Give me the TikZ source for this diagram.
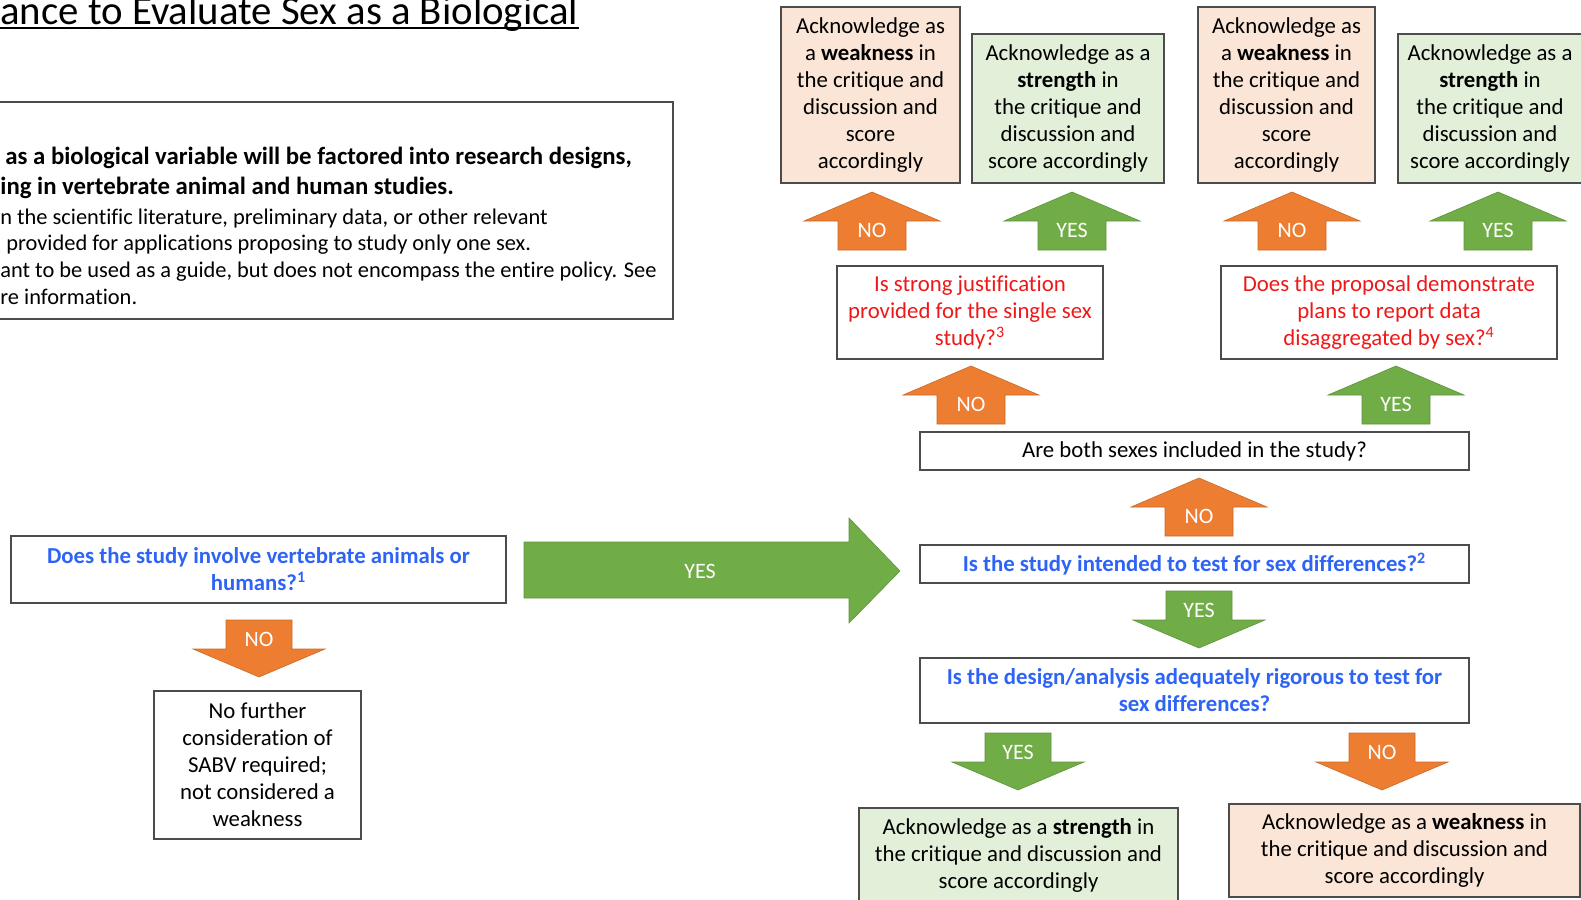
\documentclass[tikz,border=0pt]{standalone}
\usepackage{fontspec}
\setmainfont{Carlito}[Ligatures=NoCommon]
\definecolor{arrorange}{RGB}{237,125,49}
\definecolor{arrgreen}{RGB}{112,173,71}
\definecolor{qblue}{RGB}{46,100,246}
\definecolor{qred}{RGB}{238,24,24}
\definecolor{weakfill}{RGB}{251,229,214}
\definecolor{strfill}{RGB}{226,240,217}
\tikzset{
  box/.style={draw=black!70, line width=0.6pt, align=center, inner sep=0pt,
    font=\fontsize{11.4}{13.5}\selectfont},
  weakbox/.style={box, fill=weakfill},
  strbox/.style={box, fill=strfill},
  blueq/.style={box, text=qblue, font=\fontsize{11.4}{13.5}\selectfont\bfseries},
  redq/.style={box, text=qred},
  arrlabel/.style={text=white, inner sep=0pt, font=\fontsize{11}{13}\selectfont},
  introtxt/.style={anchor=base west, inner sep=0pt, font=\fontsize{11.2}{13.5}\selectfont},
  introbold/.style={introtxt, font=\fontsize{12.4}{14}\selectfont\bfseries},
}
% block arrows: name, colour, centre x, tip/top y, label
\newcommand{\blockup}[5]{%
  \fill[#2, draw=#2!85!black, line width=0.3pt] (#3,#4) -- ({#3+68},{#4+29}) -- ({#3+34},{#4+29})
    -- ({#3+34},{#4+58}) -- ({#3-34},{#4+58}) -- ({#3-34},{#4+29}) -- ({#3-68},{#4+29}) -- cycle;
  \node[arrlabel] (#1) at ({#3},{#4+38}) {#5};}
\newcommand{\blockdown}[5]{%
  \fill[#2, draw=#2!85!black, line width=0.3pt] ({#3-33},#4) -- ({#3+33},#4) -- ({#3+33},{#4+29})
    -- ({#3+66},{#4+29}) -- (#3,{#4+57}) -- ({#3-66},{#4+29}) -- ({#3-33},{#4+29}) -- cycle;
  \node[arrlabel] (#1) at ({#3},{#4+19}) {#5};}
\begin{document}
\begin{tikzpicture}[x=0.5pt,y=-0.5pt]
  \useasboundingbox (0,0) rectangle (1581,900);
  \clip (0,0) rectangle (1581,900);
  % title (cut off on the left)
  \node[anchor=base west, inner sep=0pt, font=\fontsize{20.4}{22}\selectfont] (title) at (0,24)
    {ance to Evaluate Sex as a Biological};
  \draw[line width=0.8pt] ([yshift=-1.9pt]title.base west) -- ([yshift=-1.9pt]title.base east);
  % intro box
  \node[box, minimum width=341.5pt, minimum height=108.5pt] (intro) at (331.5,210.5) {};
  \node[introbold] (intro1) at (5,164)
    {as a biological variable will be factored into research designs,};
  \node[introbold] (intro2) at (0,194)
    {ing in vertebrate animal and human studies.};
  \node[introtxt] (intro3) at (0,224) {n the scientific literature, preliminary data, or other relevant};
  \node[introtxt] (intro4) at (6,250) {provided for applications proposing to study only one sex.};
  \node[introtxt] (intro5) at (0,277) {ant to be used as a guide, but does not encompass the entire policy. See};
  \node[introtxt] (intro6) at (0,304) {re information.};

  % left column
  \node[blueq, minimum width=247.5pt, minimum height=33.5pt] (q1) at (258.5,569.5)
    {Does the study involve vertebrate animals or\\humans?\textsuperscript{1}};
  \blockdown{noq1}{arrorange}{259}{620}{NO}
  \node[box, minimum width=103.5pt, minimum height=74pt] (nofurther) at (257.5,765)
    {No further\\consideration of\\SABV required;\\not considered a\\weakness};
  \fill[arrgreen, draw=arrgreen!85!black, line width=0.3pt] (524,542) -- (849,542) -- (849,518)
    -- (900,571) -- (849,623) -- (849,598) -- (524,598) -- cycle;
  \node[arrlabel] (yesq1) at (700,571) {YES};

  % right column
  \node[blueq, minimum width=274.5pt, minimum height=19pt] (intend) at (1194.5,564)
    {Is the study intended to test for sex differences?\textsuperscript{2}};
  \blockup{nointend}{arrorange}{1199}{478}{NO}
  \node[box, minimum width=274.5pt, minimum height=19pt] (both) at (1194.5,451)
    {Are both sexes included in the study?};
  \blockup{noboth}{arrorange}{971}{366}{NO}
  \blockup{yesboth}{arrgreen}{1396}{366}{YES}
  \node[redq, minimum width=133pt, minimum height=46.5pt] (justify) at (970,312.5)
    {Is strong justification\\provided for the single sex\\study?\textsuperscript{3}};
  \node[redq, minimum width=168pt, minimum height=46.5pt] (disagg) at (1389,312.5)
    {Does the proposal demonstrate\\plans to report data\\disaggregated by sex?\textsuperscript{4}};
  \blockup{nojustify}{arrorange}{872}{192}{NO}
  \blockup{yesjustify}{arrgreen}{1072}{192}{YES}
  \blockup{nodisagg}{arrorange}{1292}{192}{NO}
  \blockup{yesdisagg}{arrgreen}{1498}{192}{YES}
  \node[weakbox, minimum width=89.5pt, minimum height=88pt] (weak1) at (870.5,95)
    {Acknowledge as\\a \textbf{weakness} in\\the critique and\\discussion and\\score\\accordingly};
  \node[strbox, minimum width=96pt, minimum height=74.5pt] (str1) at (1068,108.5)
    {Acknowledge as a\\\textbf{strength} in\\the critique and\\discussion and\\score accordingly};
  \node[weakbox, minimum width=88.5pt, minimum height=88pt] (weak2) at (1286.5,95)
    {Acknowledge as\\a \textbf{weakness} in\\the critique and\\discussion and\\score\\accordingly};
  \node[strbox, minimum width=92pt, minimum height=74.5pt] (str2) at (1490,108.5)
    {Acknowledge as a\\\textbf{strength} in\\the critique and\\discussion and\\score accordingly};

  % bottom branch
  \blockdown{yesintend}{arrgreen}{1199}{591}{YES}
  \node[blueq, minimum width=274.5pt, minimum height=32.5pt] (rigor) at (1194.5,690.5)
    {Is the design/analysis adequately rigorous to test for\\sex differences?};
  \blockdown{yesrigor}{arrgreen}{1018}{733}{YES}
  \blockdown{norigor}{arrorange}{1382}{733}{NO}
  \node[strbox, minimum width=159.5pt, minimum height=47pt] (str3) at (1018.5,855)
    {Acknowledge as a \textbf{strength} in\\the critique and discussion and\\score accordingly};
  \node[weakbox, minimum width=175.5pt, minimum height=46.5pt] (weak3) at (1404.5,850.5)
    {Acknowledge as a \textbf{weakness} in\\the critique and discussion and\\score accordingly};
\end{tikzpicture}
\end{document}
